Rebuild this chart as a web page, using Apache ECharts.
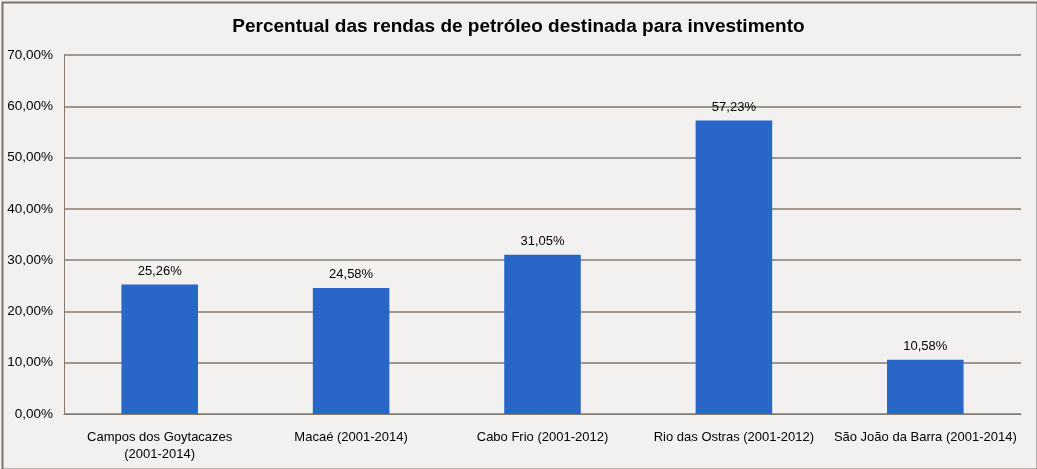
<!DOCTYPE html>
<html><head><meta charset="utf-8">
<script src="https://cdn.jsdelivr.net/npm/echarts@6/dist/echarts.min.js"></script>
<style>html,body{margin:0;padding:0;background:#f2f1ef;}#c{width:1037px;height:469px;}</style>
</head><body><div id="c"></div>
<script>
const categories = ["Campos dos Goytacazes\n(2001-2014)", "Macaé (2001-2014)", "Cabo Frio (2001-2012)", "Rio das Ostras (2001-2012)", "São João da Barra (2001-2014)"];
const values = [25.26, 24.58, 31.05, 57.23, 10.58];
const title = "Percentual das rendas de petróleo destinada para investimento";

const fmt = v => v.toFixed(2).replace('.', ',') + '%';
const chart = echarts.init(document.getElementById('c'), null, {renderer: 'canvas'});
chart.setOption({
  backgroundColor: '#f2f1ef',
  animation: false,
  graphic: [{type: 'rect', left: 0, top: 0, shape: {x: 1, y: 1, width: 1035, height: 467}, style: {fill: 'none', stroke: '#7d746d', lineWidth: 2}, silent: true}],
  title: {text: title, left: 'center', top: 12, textStyle: {fontFamily: 'Liberation Sans', fontWeight: 'bold', fontSize: 19, color: '#000'}},
  grid: {left: 64, right: 16, top: 55, bottom: 55},
  xAxis: {type: 'category', data: categories,
    axisLine: {lineStyle: {color: '#857a72', width: 1}}, axisTick: {show: false},
    axisLabel: {fontFamily: 'Liberation Sans', fontSize: 13, color: '#000', margin: 15, interval: 0, lineHeight: 17}},
  yAxis: {type: 'value', min: 0, max: 70, interval: 10,
    axisLine: {show: true, lineStyle: {color: '#857a72', width: 1}}, axisTick: {show: false},
    splitLine: {lineStyle: {color: '#857a72', width: 1.5}},
    axisLabel: {fontFamily: 'Liberation Sans', fontSize: 13.5, color: '#000', margin: 11, formatter: v => fmt(v)}},
  series: [{type: 'bar', data: values, barWidth: '40%', itemStyle: {color: '#2a66c8'},
    label: {show: true, position: 'top', distance: 7, fontFamily: 'Liberation Sans', fontSize: 13, color: '#000', formatter: p => fmt(p.value)}}]
});
</script></body></html>
